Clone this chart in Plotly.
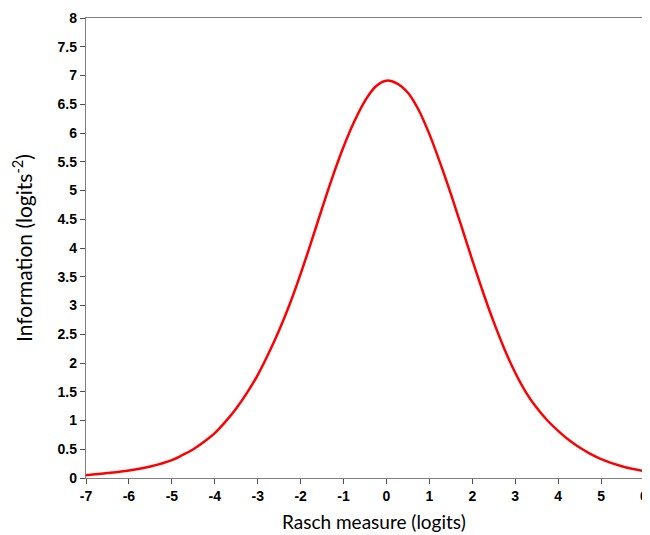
import plotly.graph_objects as go

x_logits = [-7, -6.5, -6, -5.5, -5, -4.75, -4.5, -4.25, -4, -3.75, -3.5, -3.25, -3, -2.75, -2.5, -2.25,
            -2, -1.75, -1.5, -1.25, -1, -0.75, -0.5, -0.25, 0, 0.25, 0.5, 0.75, 1, 1.25,
            1.5, 1.75, 2, 2.25, 2.5, 2.75, 3, 3.25, 3.5, 3.75, 4, 4.25, 4.5, 4.75, 5, 5.5, 6]
information = [0.05, 0.085, 0.13, 0.20, 0.31, 0.40, 0.50, 0.63, 0.78, 0.98, 1.21, 1.48, 1.79, 2.16, 2.57, 3.03,
               3.55, 4.11, 4.69, 5.25, 5.76, 6.20, 6.56, 6.81, 6.91, 6.86, 6.70, 6.40, 5.98, 5.48,
               4.94, 4.37, 3.79, 3.23, 2.71, 2.24, 1.83, 1.49, 1.22, 1.00, 0.82, 0.66, 0.53, 0.42, 0.33, 0.20, 0.12]

x_ticks = list(range(-7, 7))
y_ticks = [i * 0.5 for i in range(17)]
x_title = "Rasch measure (logits)"
y_title = "Information (logits<sup>-2</sup>)"

fig = go.Figure()
fig.add_trace(go.Scatter(
    x=x_logits, y=information, mode="lines",
    line=dict(color="#ff0000", width=2.5, shape="spline", smoothing=1.0),
    showlegend=False, hoverinfo="skip",
))

axis_common = dict(
    showgrid=False, zeroline=False, showline=True, linecolor="#808080", linewidth=1.3,
    mirror=True, ticks="outside", ticklen=5, tickcolor="#505050", tickwidth=1.2,
    ticklabeloverflow="allow",
    tickfont=dict(family="Arial", size=14, color="#000000", weight="bold"),
)

fig.update_layout(
    width=642, height=527,
    margin=dict(l=78, r=2, t=7, b=57),
    paper_bgcolor="white", plot_bgcolor="white",
    xaxis=dict(range=[-7, 6], tickvals=x_ticks, ticktext=[str(v) for v in x_ticks],
               **axis_common),
    yaxis=dict(range=[0, 8], tickvals=y_ticks, ticktext=[f"{v:g}" for v in y_ticks],
               title=dict(text=y_title, font=dict(family="Lato", size=21, color="#000000"), standoff=22),
               **axis_common),
    annotations=[dict(
        text=x_title, xref="paper", yref="paper", x=0.516, y=-0.095,
        xanchor="center", yanchor="middle", showarrow=False,
        font=dict(family="Lato", size=19, color="#000000"),
    )],
)

fig.write_html("out.html")
